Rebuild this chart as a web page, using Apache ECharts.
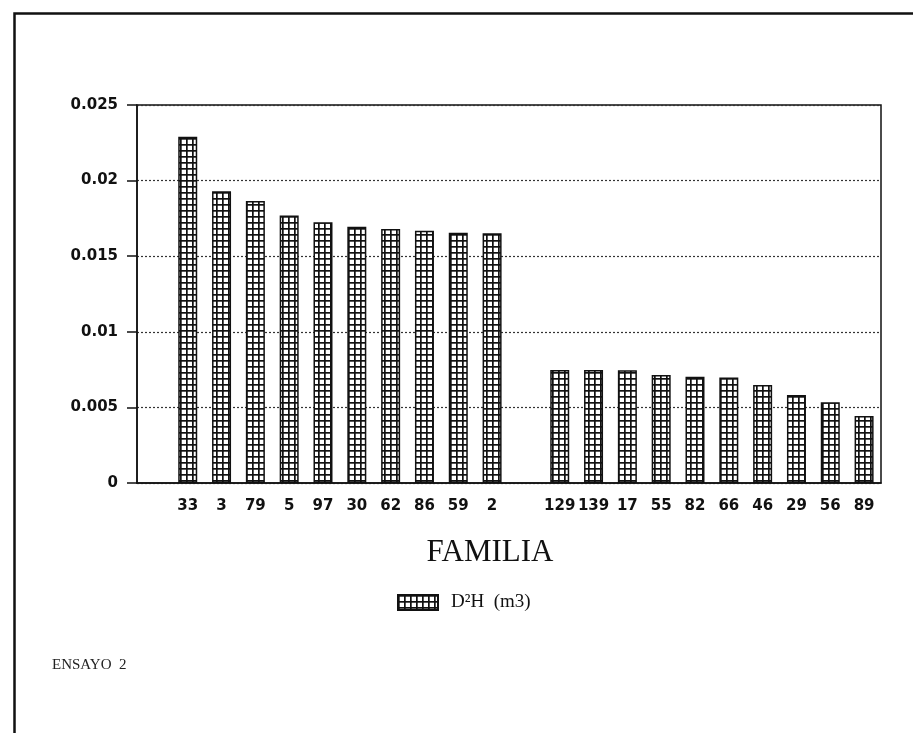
<!DOCTYPE html>
<html>
<head>
<meta charset="utf-8">
<script src="https://cdn.jsdelivr.net/npm/echarts@6/dist/echarts.min.js"></script>
<style>
html,body{margin:0;padding:0;background:#fff;}
#c{width:913px;height:733px;}
</style>
</head>
<body>
<div id="c"></div>
<script>
const categories = ['', '33', '3', '79', '5', '97', '30', '62', '86', '59', '2', '', '129', '139', '17', '55', '82', '66', '46', '29', '56', '89'];
const values = [null, 0.0229, 0.0193, 0.01865, 0.0177, 0.01725, 0.01695, 0.0168, 0.01668, 0.01655, 0.01652, null, 0.00747, 0.00747, 0.00745, 0.00714, 0.00703, 0.00697, 0.00648, 0.00582, 0.00534, 0.00443];
const yTicks = [0, 0.005, 0.01, 0.015, 0.02, 0.025];
const seriesName = 'D²H  (m3)';
const axisTitle = 'FAMILIA';
const note = 'ENSAYO  2';

function makePattern() {
  const c = document.createElement('canvas');
  c.width = 6; c.height = 6;
  const g = c.getContext('2d');
  g.fillStyle = '#ffffff';
  g.fillRect(0, 0, 6, 6);
  g.fillStyle = '#111111';
  g.fillRect(0, 0, 6, 1.7);
  g.fillRect(0, 0, 1.7, 6);
  return c;
}
const pattern = { image: makePattern(), repeat: 'repeat' };

const chart = echarts.init(document.getElementById('c'), null, { renderer: 'canvas' });
chart.setOption({
  backgroundColor: '#ffffff',
  animation: false,
  grid: { left: 137, right: 32, top: 105, bottom: 250, show: true, borderColor: '#111', borderWidth: 1.5, backgroundColor: 'transparent' },
  legend: {
    data: [{ name: seriesName, icon: 'rect' }],
    left: 392, top: 588,
    itemWidth: 40, itemHeight: 15, itemGap: 10,
    textStyle: { fontFamily: 'Liberation Serif', fontSize: 19, color: '#111', padding: [0, 0, 0, 8] }
  },
  xAxis: {
    type: 'category',
    data: categories,
    boundaryGap: true,
    axisLine: { lineStyle: { color: '#111', width: 1.5 } },
    axisTick: { alignWithLabel: true, length: 9, lineStyle: { color: '#111', width: 1.5 }, interval: 0 },
    axisLabel: { interval: 0, margin: 16, fontFamily: 'DejaVu Sans', fontWeight: 'bold', fontSize: 15, color: '#111' },
    splitLine: { show: false }
  },
  yAxis: {
    type: 'value',
    min: yTicks[0], max: yTicks[yTicks.length - 1], interval: yTicks[1] - yTicks[0],
    axisLine: { show: true, lineStyle: { color: '#111', width: 1.5 } },
    axisTick: { show: true, length: 10, lineStyle: { color: '#111', width: 1.5 } },
    axisLabel: { margin: 19, fontFamily: 'DejaVu Sans', fontWeight: 'bold', fontSize: 15, color: '#111',
      formatter: v => String(parseFloat(v.toFixed(3))) },
    splitLine: { show: true, lineStyle: { color: '#333', type: [2, 2], width: 1.2 } }
  },
  series: [{
    name: seriesName,
    type: 'bar',
    data: values,
    barWidth: 19,
    itemStyle: { color: pattern, borderColor: '#111', borderWidth: 1.5 }
  }],
  graphic: [
    { type: 'rect', left: 12, top: 11, shape: { width: 940, height: 760 }, style: { fill: 'none', stroke: '#111', lineWidth: 2.5 }, silent: true },
    { type: 'text', x: 490, y: 553, style: { text: axisTitle, fontFamily: 'Liberation Serif', fontSize: 31, fill: '#111', textAlign: 'center', textVerticalAlign: 'middle' } },
    { type: 'text', x: 52, y: 665, style: { text: note, fontFamily: 'Liberation Serif', fontSize: 15, fill: '#222', textAlign: 'left', textVerticalAlign: 'middle' } }
  ]
});
</script>
</body>
</html>
